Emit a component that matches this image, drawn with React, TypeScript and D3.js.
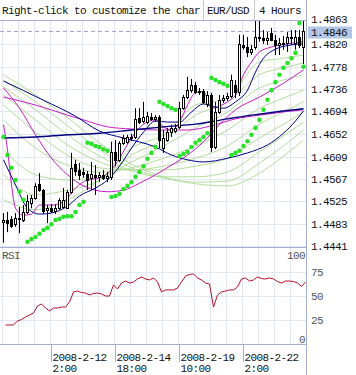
import React from "react";
import * as d3 from "d3";

// ---------- DATA ----------
const opens = [
  1.4486, 1.4490, 1.4492, 1.4482, 1.4494, 1.4490, 1.4505, 1.4522, 1.4531, 1.4558,
  1.4546, 1.4509, 1.4512, 1.4507, 1.4512, 1.4514, 1.4512, 1.4543, 1.4595, 1.4584,
  1.4580, 1.4576, 1.4569, 1.4575, 1.4571, 1.4575, 1.4569, 1.4571, 1.4618, 1.4603,
  1.4635, 1.4637, 1.4644, 1.4646, 1.4682, 1.4676, 1.4674, 1.4684, 1.4680, 1.4684,
  1.4625, 1.4640, 1.4655, 1.4657, 1.4665, 1.4700, 1.4721, 1.4734, 1.4744, 1.4731,
  1.4732, 1.4708, 1.4725, 1.4627, 1.4693, 1.4716, 1.4719, 1.4723, 1.4744, 1.4731,
  1.4819, 1.4815, 1.4806, 1.4815, 1.4832, 1.4832, 1.4828, 1.4841, 1.4828, 1.4819,
  1.4823, 1.4823, 1.4834, 1.4823, 1.4834, 1.4815,
];
const highs = [
  1.4503, 1.4505, 1.4497, 1.4503, 1.4514, 1.4518, 1.4537, 1.4537, 1.4559, 1.4578,
  1.4548, 1.4518, 1.4520, 1.4520, 1.4531, 1.4550, 1.4546, 1.4616, 1.4603, 1.4597,
  1.4588, 1.4582, 1.4599, 1.4593, 1.4580, 1.4584, 1.4580, 1.4637, 1.4640, 1.4638,
  1.4650, 1.4650, 1.4652, 1.4700, 1.4700, 1.4712, 1.4693, 1.4691, 1.4687, 1.4687,
  1.4659, 1.4663, 1.4669, 1.4670, 1.4712, 1.4725, 1.4759, 1.4755, 1.4749, 1.4738,
  1.4736, 1.4732, 1.4729, 1.4712, 1.4725, 1.4725, 1.4729, 1.4763, 1.4753, 1.4838,
  1.4838, 1.4834, 1.4819, 1.4866, 1.4866, 1.4847, 1.4843, 1.4851, 1.4838, 1.4832,
  1.4836, 1.4843, 1.4847, 1.4847, 1.4847, 1.4866,
];
const lows = [
  1.4447, 1.4467, 1.4475, 1.4477, 1.4465, 1.4486, 1.4501, 1.4512, 1.4528, 1.4543,
  1.4501, 1.4484, 1.4503, 1.4501, 1.4509, 1.4511, 1.4511, 1.4539, 1.4573, 1.4565,
  1.4569, 1.4546, 1.4546, 1.4537, 1.4561, 1.4565, 1.4561, 1.4565, 1.4591, 1.4599,
  1.4631, 1.4633, 1.4638, 1.4642, 1.4670, 1.4672, 1.4670, 1.4676, 1.4674, 1.4625,
  1.4616, 1.4637, 1.4646, 1.4653, 1.4661, 1.4697, 1.4717, 1.4729, 1.4727, 1.4725,
  1.4708, 1.4702, 1.4618, 1.4623, 1.4689, 1.4710, 1.4714, 1.4719, 1.4719, 1.4723,
  1.4810, 1.4796, 1.4800, 1.4810, 1.4825, 1.4821, 1.4819, 1.4826, 1.4800, 1.4800,
  1.4810, 1.4806, 1.4819, 1.4810, 1.4813, 1.4783,
];
const closes = [
  1.4490, 1.4484, 1.4479, 1.4494, 1.4492, 1.4505, 1.4526, 1.4531, 1.4554, 1.4546,
  1.4507, 1.4512, 1.4507, 1.4512, 1.4528, 1.4528, 1.4543, 1.4588, 1.4582, 1.4575,
  1.4576, 1.4565, 1.4576, 1.4571, 1.4575, 1.4569, 1.4573, 1.4618, 1.4603, 1.4635,
  1.4644, 1.4646, 1.4646, 1.4680, 1.4674, 1.4684, 1.4685, 1.4680, 1.4684, 1.4640,
  1.4644, 1.4655, 1.4663, 1.4663, 1.4700, 1.4721, 1.4734, 1.4744, 1.4731, 1.4732,
  1.4712, 1.4725, 1.4627, 1.4693, 1.4716, 1.4719, 1.4723, 1.4753, 1.4731, 1.4821,
  1.4815, 1.4806, 1.4811, 1.4834, 1.4834, 1.4828, 1.4832, 1.4828, 1.4819, 1.4823,
  1.4821, 1.4834, 1.4832, 1.4834, 1.4819, 1.4846,
];
const sar = [
  1.4646, 1.4612, 1.4588, 1.4565, 1.4543, 1.4528,
  1.4449, 1.4454, 1.4458, 1.4464, 1.4471, 1.4475, 1.4482, 1.4490, 1.4492, 1.4496, 1.4497, 1.4497, 1.4505, 1.4518, 1.4524,
  1.4635, 1.4633, 1.4629, 1.4627, 1.4623, 1.4620,
  1.4533, 1.4535, 1.4539, 1.4548, 1.4554, 1.4561, 1.4571, 1.4580, 1.4591, 1.4605, 1.4616, 1.4627,
  1.4712, 1.4708, 1.4704, 1.4700, 1.4697,
  1.4610, 1.4614, 1.4618, 1.4627, 1.4635, 1.4640, 1.4646, 1.4653,
  1.4757, 1.4753, 1.4749, 1.4746, 1.4742,
  1.4612, 1.4616, 1.4620, 1.4629, 1.4638, 1.4650, 1.4663, 1.4678, 1.4697, 1.4716, 1.4734, 1.4749, 1.4763, 1.4776, 1.4785, 1.4794, 1.4804,
  1.4860, 1.4778,
];
const rsi = [
  19.8, 19.8, 19.8, 24.0, 25.5, 28.1, 30.2, 32.3, 39.6, 41.7,
  37.5, 34.4, 37.5, 37.5, 38.5, 38.5, 43.8, 54.2, 55.2, 53.6,
  53.1, 51.0, 52.6, 53.1, 52.1, 50.0, 50.0, 61.5, 57.3, 63.5,
  65.6, 63.5, 64.6, 67.7, 69.8, 67.7, 66.7, 68.8, 64.6, 54.2,
  56.3, 56.3, 56.3, 58.3, 64.6, 70.8, 72.4, 72.9, 68.8, 66.7,
  63.5, 62.5, 38.5, 51.0, 54.2, 55.2, 56.3, 56.3, 59.4, 67.7,
  68.8, 65.6, 66.7, 69.8, 68.2, 67.7, 68.8, 67.7, 65.1, 63.5,
  65.6, 65.6, 65.1, 63.5, 59.9, 64.6,
];

// moving averages, sampled at candle indices
const greenIdx = [0, 8, 16, 24, 32, 40, 48, 56, 64, 70, 75];
const green1 = [1.4763, 1.4725, 1.4682, 1.4635, 1.4595, 1.4571, 1.4558, 1.4554, 1.4578, 1.4610, 1.4640];
const green2 = [1.4753, 1.4712, 1.4667, 1.4622, 1.4588, 1.4569, 1.4561, 1.4563, 1.4597, 1.4629, 1.4659];
const green3 = [1.4740, 1.4697, 1.4650, 1.4610, 1.4582, 1.4571, 1.4571, 1.4580, 1.4618, 1.4648, 1.4674];
const green4 = [1.4725, 1.4678, 1.4631, 1.4599, 1.4584, 1.4584, 1.4591, 1.4606, 1.4644, 1.4670, 1.4693];
const green5 = [1.4706, 1.4655, 1.4612, 1.4588, 1.4584, 1.4591, 1.4606, 1.4629, 1.4670, 1.4693, 1.4712];
const green6 = [1.4678, 1.4625, 1.4593, 1.4580, 1.4588, 1.4606, 1.4629, 1.4659, 1.4700, 1.4719, 1.4734];
const green7 = [1.4622, 1.4575, 1.4565, 1.4569, 1.4599, 1.4629, 1.4663, 1.4693, 1.4738, 1.4753, 1.4763];
const green8 = [1.4575, 1.4537, 1.4546, 1.4565, 1.4612, 1.4640, 1.4687, 1.4712, 1.4763, 1.4776, 1.4785];
const green9 = [1.4528, 1.4509, 1.4528, 1.4565, 1.4625, 1.4650, 1.4706, 1.4719, 1.4787, 1.4794, 1.4800];

const navyLong = [[0, 1.4644], [8, 1.4646], [16, 1.4650], [24, 1.4653], [32, 1.4659], [40, 1.4665], [48, 1.4670], [56, 1.4680], [62, 1.4687], [68, 1.4693], [75, 1.4699]];
const navyMid = [[0, 1.4751], [10, 1.4715], [18, 1.4685], [24, 1.4657], [30, 1.4644], [38, 1.4627], [42, 1.4612], [46, 1.4603], [50, 1.4599], [56, 1.4606], [61, 1.4616], [66, 1.4631], [70, 1.4653], [73, 1.4676], [75, 1.4695]];
const navyShort = [[0, 1.4603], [3, 1.4556], [6, 1.4512], [9, 1.4501], [12, 1.4503], [16, 1.4516], [19, 1.4535], [23, 1.4550], [26, 1.4565], [29, 1.4591], [32, 1.4625], [35, 1.4655], [38, 1.4676], [41, 1.4674], [44, 1.4674], [47, 1.4693], [50, 1.4708], [52, 1.4704], [55, 1.4700], [58, 1.4712], [61, 1.4734], [63, 1.4768], [65, 1.4794], [68, 1.4811], [72, 1.4819], [75, 1.4821]];
const magentaLong = [[0, 1.4721], [8, 1.4706], [16, 1.4687], [20, 1.4678], [26, 1.4665], [32, 1.4661], [40, 1.4659], [46, 1.4659], [52, 1.4667], [58, 1.4680], [64, 1.4687], [70, 1.4693], [75, 1.4697]];
const magentaMid = [[0, 1.4738], [4, 1.4700], [8, 1.4650], [12, 1.4606], [16, 1.4575], [20, 1.4554], [26, 1.4543], [30, 1.4546], [34, 1.4559], [38, 1.4575], [42, 1.4593], [46, 1.4612], [50, 1.4637], [54, 1.4669], [58, 1.4697], [64, 1.4721], [70, 1.4747], [75, 1.4772]];
const magentaShort = [[0, 1.4669], [1, 1.4622], [2, 1.4556], [3, 1.4512], [5, 1.4499], [7, 1.4501], [9, 1.4518], [12, 1.4518], [15, 1.4524], [18, 1.4550], [21, 1.4565], [24, 1.4569], [27, 1.4584], [29, 1.4606], [32, 1.4644], [35, 1.4670], [38, 1.4678], [40, 1.4665], [42, 1.4659], [44, 1.4674], [46, 1.4706], [48, 1.4729], [50, 1.4731], [52, 1.4700], [54, 1.4704], [56, 1.4712], [58, 1.4725], [60, 1.4763], [62, 1.4787], [64, 1.4806], [67, 1.4815], [71, 1.4821], [75, 1.4825]];

const priceTicks = [1.4863, 1.4820, 1.4778, 1.4736, 1.4694, 1.4652, 1.4609, 1.4567, 1.4525, 1.4483, 1.4441];
const rsiGridTicks = [75, 50, 25];
const dateTickIdx = [11.75, 27.75, 43.75, 59.75];
const dateTickDay = ["2008-2-12", "2008-2-14", "2008-2-19", "2008-2-22"];
const dateTickTime = ["2:00", "18:00", "10:00", "2:00"];
const headerText = "Right-click to customize the char";
const symbolText = "EUR/USD";
const periodText = "4 Hours";

// ---------- STYLE ----------
const FONT = "'Liberation Mono', 'DejaVu Sans Mono', monospace";
const FRAME = "#a3aed0";
const GRID = "#e3e6f0";
const GREEN = "#b2dc9a";
const MAGENTA = "#c21bc2";
const NAVY = "#00007f";
const SARC = "#2be02b";
const RSIC = "#b0102a";

export default function App() {
  const left = 0, right = 306, top = 20, priceBottom = 247, rsiBottom = 344;
  const x = d3.scaleLinear().domain([0, 75]).range([3.5, 303.5]);
  const xr = d3.scaleLinear().domain([0, 75]).range([5.5, 305.5]);
  const y = d3.scaleLinear().domain([1.4441, 1.4863]).range([246, 21.5]);
  const yr = d3.scaleLinear().domain([0, 100]).range([rsiBottom, 248]);

  const maLine = d3
    .line<number[]>()
    .x((d) => x(d[0]))
    .y((d) => y(d[1]))
    .curve(d3.curveMonotoneX);
  const rsiLine = d3
    .line<number>()
    .x((_, i) => xr(i))
    .y((d) => yr(d));

  const greens = [green1, green2, green3, green4, green5, green6, green7, green8, green9].map((vals) =>
    greenIdx.map((idx, k) => [idx, vals[k]])
  );
  const gridX = d3.range(0, 19).map((k) => x(4 * k - 0.25));
  const last = closes[closes.length - 1];
  const textStyle = { fontFamily: FONT, fontSize: 11, letterSpacing: "-0.6px" } as const;
  const topTick = priceTicks[0];

  return (
    <svg
      width={356}
      height={375}
      style={{ position: "absolute", left: 0, top: 0, background: "#fff" }}
    >
      <defs>
        <clipPath id="pclip">
          <rect x={left} y={top + 0.5} width={right - left} height={priceBottom - top - 0.5} />
        </clipPath>
        <clipPath id="rclip">
          <rect x={left} y={priceBottom + 0.5} width={right - left} height={rsiBottom - priceBottom - 0.5} />
        </clipPath>
        <clipPath id="hclip">
          <rect x={0} y={0} width={202} height={20} />
        </clipPath>
      </defs>
      <rect x={0} y={0} width={356} height={375} fill="#fff" />

      {/* grid */}
      {gridX.map((gx, k) => (
        <line key={"gx" + k} x1={gx} x2={gx} y1={top} y2={rsiBottom} stroke={GRID} />
      ))}
      {priceTicks.slice(1).map((v) => (
        <line key={"gy" + v} x1={left} x2={right} y1={Math.round(y(v)) + 0.5} y2={Math.round(y(v)) + 0.5} stroke={GRID} />
      ))}
      {rsiGridTicks.map((v) => (
        <line key={"gr" + v} x1={left} x2={right} y1={Math.round(yr(v)) + 0.5} y2={Math.round(yr(v)) + 0.5} stroke={GRID} />
      ))}

      {/* last price dashed line */}
      <line
        x1={left}
        x2={right}
        y1={Math.round(y(last)) + 0.5}
        y2={Math.round(y(last)) + 0.5}
        stroke="#9ea8cc"
        strokeDasharray="4 3"
      />

      <g clipPath="url(#pclip)">
        {greens.map((g, k) => (
          <path key={"g" + k} d={maLine(g) || ""} fill="none" stroke={GREEN} strokeWidth={1} />
        ))}
        {[magentaLong, magentaMid, magentaShort].map((m, k) => (
          <path key={"m" + k} d={maLine(m) || ""} fill="none" stroke={MAGENTA} strokeWidth={1} />
        ))}
        {[navyMid, navyShort].map((m, k) => (
          <path key={"n" + k} d={maLine(m) || ""} fill="none" stroke={NAVY} strokeWidth={1} />
        ))}
        <path d={maLine(navyLong) || ""} fill="none" stroke={NAVY} strokeWidth={1.4} />

        {/* candles */}
        {opens.map((o, i) => {
          const c = closes[i];
          const cx = x(i);
          const yt = Math.round(y(Math.max(o, c)));
          const yb = Math.round(y(Math.min(o, c)));
          const up = c >= o;
          return (
            <g key={"c" + i}>
              <line x1={cx} x2={cx} y1={y(highs[i])} y2={y(lows[i])} stroke="#000" strokeWidth={1} />
              <rect
                x={cx - 1}
                y={yt + 0.5}
                width={2}
                height={Math.max(1, yb - yt)}
                fill={up ? "#fff" : "#000"}
                stroke="#000"
                strokeWidth={1}
              />
            </g>
          );
        })}

        {/* parabolic SAR */}
        {sar.map((s, i) => (
          <circle key={"s" + i} cx={x(i)} cy={y(s)} r={2.3} fill={SARC} />
        ))}
      </g>

      {/* RSI */}
      <g clipPath="url(#rclip)">
        <path d={rsiLine(rsi) || ""} fill="none" stroke={RSIC} strokeWidth={1} />
      </g>

      {/* frames */}
      <line x1={0} x2={right + 0.5} y1={top + 0.5} y2={top + 0.5} stroke={FRAME} />
      <line x1={0} x2={right} y1={priceBottom + 0.5} y2={priceBottom + 0.5} stroke={FRAME} />
      <line x1={0} x2={right} y1={rsiBottom + 0.5} y2={rsiBottom + 0.5} stroke={FRAME} />
      <line x1={right + 0.5} x2={right + 0.5} y1={0} y2={375} stroke={FRAME} />
      <line x1={203.5} x2={203.5} y1={0} y2={top} stroke="#c8c8c8" />
      <line x1={254.5} x2={254.5} y1={0} y2={top} stroke="#c8c8c8" />

      {/* header */}
      <g clipPath="url(#hclip)">
        <text x={2} y={14} {...textStyle} fill="#111">
          {headerText}
        </text>
      </g>
      <text x={207} y={14} {...textStyle} fill="#111">
        {symbolText}
      </text>
      <text x={259} y={14} {...textStyle} fill="#111">
        {periodText}
      </text>

      {/* price axis */}
      {priceTicks.map((v) => (
        <text key={"pt" + v} x={311} y={v === topTick ? y(v) - 2.5 : y(v)} dy="0.36em" {...textStyle} fill="#111">
          {v.toFixed(4)}
        </text>
      ))}
      <rect x={308} y={Math.round(y(last)) - 4.5} width={44} height={12} fill="#b3c6e6" />
      <text x={311} y={y(last) + 1} dy="0.36em" {...textStyle} fill="#111">
        {last.toFixed(4)}
      </text>

      {/* RSI axis */}
      <text x={2} y={259} {...textStyle} fill="#555">
        RSI
      </text>
      <text x={305} y={yr(100) + 11} textAnchor="end" {...textStyle} fill="#555">
        100
      </text>
      <text x={305} y={yr(0) - 1} textAnchor="end" {...textStyle} fill="#555">
        0
      </text>
      {rsiGridTicks.map((v) => (
        <text key={"rt" + v} x={311} y={yr(v)} dy="0.36em" {...textStyle} fill="#555">
          {v}
        </text>
      ))}

      {/* time axis */}
      {dateTickIdx.map((idx, k) => {
        const tx = Math.round(x(idx)) + 0.5;
        return (
          <g key={"dt" + k}>
            <line x1={tx} x2={tx} y1={rsiBottom} y2={362} stroke={FRAME} />
            <text x={tx + 1} y={361} {...textStyle} fill="#111">
              {dateTickDay[k]}
            </text>
            <text x={tx + 1} y={372} {...textStyle} fill="#111">
              {dateTickTime[k]}
            </text>
          </g>
        );
      })}
    </svg>
  );
}
